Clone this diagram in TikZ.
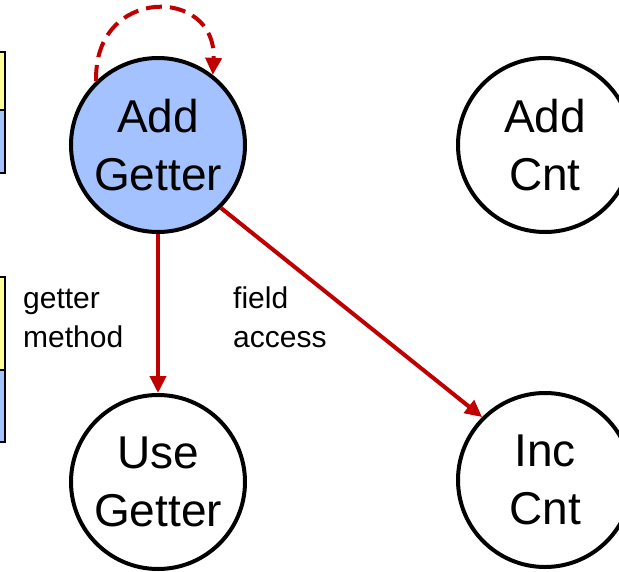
\documentclass[tikz,border=0pt]{standalone}
\usepackage{fontspec}
\setmainfont{Liberation Sans}
\usetikzlibrary{arrows.meta}
\definecolor{nodeblue}{RGB}{164,194,255}
\definecolor{paleyellow}{RGB}{255,255,153}
\definecolor{arrowred}{RGB}{192,0,0}
\begin{document}
\begin{tikzpicture}[x=1pt,y=-1pt,
  state/.style={circle,draw=black,line width=4pt,minimum size=174pt,inner sep=0pt,
    align=center,font=\fontsize{46}{58}\selectfont},
  edgelabel/.style={anchor=base west,inner sep=0pt,align=left,font=\fontsize{30}{39}\selectfont},
  redarrow/.style={draw=arrowred,line width=4pt,-{Triangle[length=17pt,width=16pt]}},
  sidebox/.style={draw=black,line width=2pt}]
\useasboundingbox (0,0) rectangle (619,571);
% partial boxes at the left edge
\draw[sidebox,fill=paleyellow] (-10,52) rectangle (5,110);
\draw[sidebox,fill=nodeblue] (-10,110) rectangle (5,173);
\draw[sidebox,fill=paleyellow] (-10,277) rectangle (5,370);
\draw[sidebox,fill=nodeblue] (-10,370) rectangle (5,442);
% states
\node[state,fill=nodeblue] (ag) at (158,145) {Add\\Getter};
\node[state,fill=white] (ac) at (545,145) {Add\\Cnt};
\node[state,fill=white] (ug) at (158,482) {Use\\Getter};
\node[state,fill=white] (ic) at (545,480) {Inc\\Cnt};
% connectors
\draw[redarrow] (ag.south) -- (ug.north);
\draw[redarrow] (ag.-45) -- (ic.135);
\draw[redarrow,dash pattern=on 16pt off 8pt] (ag.134) .. controls (93,-14) and (217,-14) .. (ag.52);
% labels
\node[edgelabel] (lg) at (23,347) {getter\\method};
\node[edgelabel] (lf) at (233,347) {field\\access};
\end{tikzpicture}
\end{document}
